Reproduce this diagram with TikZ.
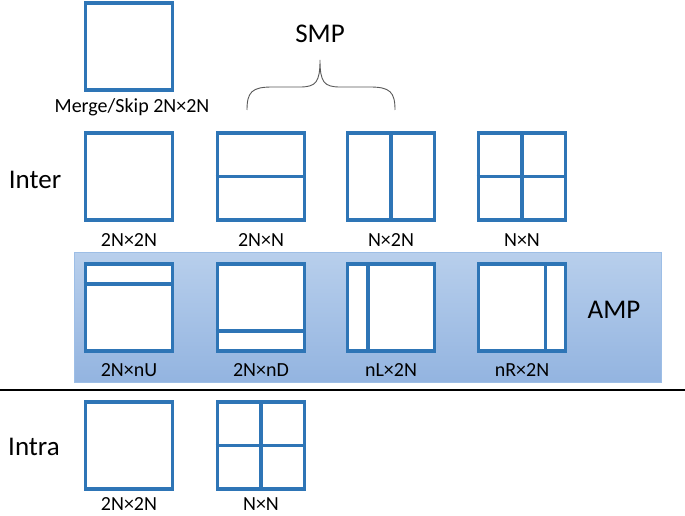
\documentclass[tikz,border=0pt]{standalone}
\usepackage{fontspec}
\setmainfont{Carlito}
\begin{document}
\begin{tikzpicture}[x=1pt,y=-1pt,
  pubox/.style={draw=boxblue,line width=3.6pt,fill=white,minimum width=87pt,minimum height=87pt,inner sep=0pt},
  inln/.style={draw=boxblue,line width=3.6pt},
  lbl/.style={font=\fontsize{20}{22}\selectfont,inner sep=0pt},
  big/.style={font=\fontsize{27}{30}\selectfont,inner sep=0pt}]
\definecolor{boxblue}{HTML}{2E75B6}
\definecolor{bandtop}{HTML}{B8CFEC}
\definecolor{bandbot}{HTML}{93B4E0}
\definecolor{bandline}{HTML}{9DBEE6}
\useasboundingbox (0,0) rectangle (685,516);
% AMP band
\shade[top color=bandtop,bottom color=bandbot,draw=bandline,line width=0.8pt] (74,252) rectangle (661,382);
% separator
\coordinate (sepL) at (0,390);
\coordinate (sepR) at (685,390);
\draw[line width=1.6pt] (sepL) -- (sepR);
% top
\node[pubox] (ms) at (129,46.5) {};
\node[lbl] (msl) at (132,107) {Merge/Skip 2N×2N};
\node[big] (smp) at (320,34) {SMP};
\coordinate (brL) at (247,110);
\coordinate (brR) at (395,110);
\coordinate (brT) at (320,60);
\draw[line width=0.9pt,draw=black!65] (brL) .. controls (247,92) and (252,87) .. (272,87) -- (300,87) .. controls (316,87) and (320,82) .. (brT)
  .. controls (320,82) and (324,87) .. (340,87) -- (370,87) .. controls (390,87) and (395,92) .. (brR);
% Inter
\node[big] (inter) at (35,180) {Inter};
\node[pubox] (i1) at (129,176.5) {};
\node[pubox] (i2) at (261,176.5) {};
\node[pubox] (i3) at (391,176.5) {};
\node[pubox] (i4) at (522,176.5) {};
\draw[inln] (i2.west) -- (i2.east);
\draw[inln] (i3.north) -- (i3.south);
\draw[inln] (i4.west) -- (i4.east);
\draw[inln] (i4.north) -- (i4.south);
\node[lbl] at (129,240) {2N×2N};
\node[lbl] at (261,240) {2N×N};
\node[lbl] at (391,240) {N×2N};
\node[lbl] at (522,240) {N×N};
% AMP
\node[pubox] (a1) at (129,307.5) {};
\node[pubox] (a2) at (261,307.5) {};
\node[pubox] (a3) at (391,307.5) {};
\node[pubox] (a4) at (522,307.5) {};
\draw[inln] ([yshift=-22pt]a1.north west) -- ([yshift=-22pt]a1.north east);
\draw[inln] ([yshift=22pt]a2.south west) -- ([yshift=22pt]a2.south east);
\draw[inln] ([xshift=22pt]a3.north west) -- ([xshift=22pt]a3.south west);
\draw[inln] ([xshift=-22pt]a4.north east) -- ([xshift=-22pt]a4.south east);
\node[lbl] at (129,370) {2N×nU};
\node[lbl] at (261,370) {2N×nD};
\node[lbl] at (391,370) {nL×2N};
\node[lbl] at (522,370) {nR×2N};
\node[big] (amp) at (614,310) {AMP};
% Intra
\node[big] (intra) at (34,447) {Intra};
\node[pubox] (t1) at (129,445.5) {};
\node[pubox] (t2) at (261,445.5) {};
\draw[inln] (t2.west) -- (t2.east);
\draw[inln] (t2.north) -- (t2.south);
\node[lbl] at (129,504.5) {2N×2N};
\node[lbl] at (261,504.5) {N×N};
\end{tikzpicture}
\end{document}
